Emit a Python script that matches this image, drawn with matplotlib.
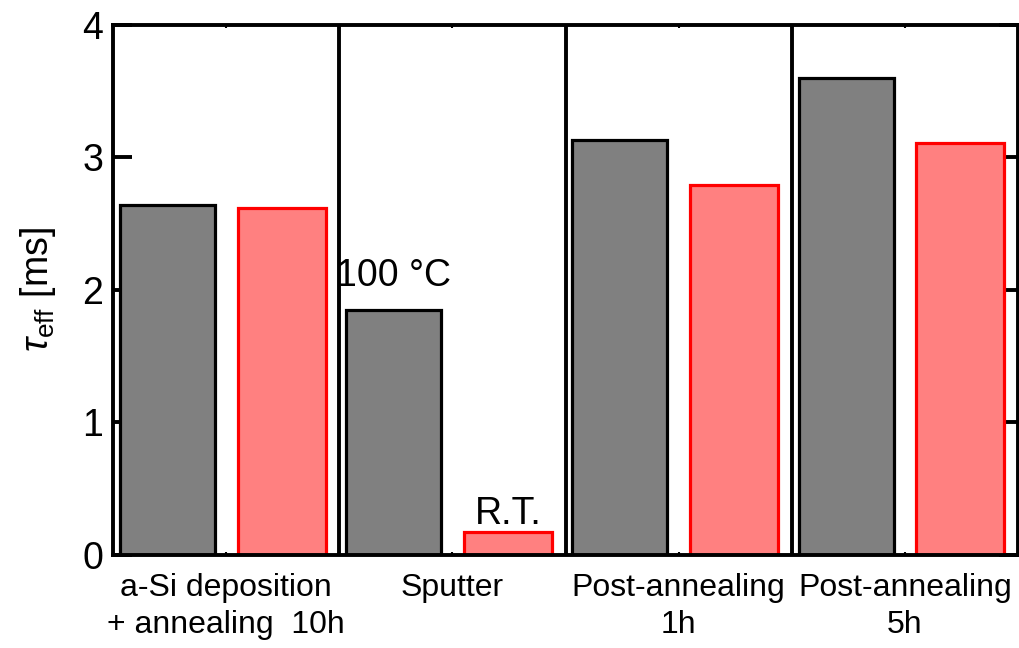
import matplotlib
matplotlib.use("Agg")
import matplotlib.pyplot as plt
import numpy as np

plt.rcParams["font.family"] = ["Liberation Sans", "DejaVu Sans"]
plt.rcParams["mathtext.fontset"] = "custom"
plt.rcParams["mathtext.rm"] = "Liberation Sans"
plt.rcParams["mathtext.it"] = "Liberation Sans:italic"

categories = ["a-Si deposition\n+ annealing  10h", "Sputter",
              "Post-annealing\n1h", "Post-annealing\n5h"]
tau_gray = [2.64, 1.85, 3.13, 3.60]
tau_red = [2.62, 0.17, 2.79, 3.11]
yticks = [0, 1, 2, 3, 4]

fig = plt.figure(figsize=(10.2, 6.48), dpi=100)
ax = fig.add_axes([0.111, 0.1435, 0.887, 0.818])

x = np.arange(len(categories))
ax.bar(x - 0.26, tau_gray, width=0.42, color="#808080",
       edgecolor="black", linewidth=2.3, zorder=3)
ax.bar(x + 0.245, tau_red, width=0.39, color="#ff8080",
       edgecolor="#ff0000", linewidth=2.3, zorder=3)

# group separators
for xs in x[:-1] + 0.5:
    ax.axvline(xs, color="black", linewidth=2.8, zorder=4)

ax.text(x[1] - 0.26, tau_gray[1] + 0.12, "100 °C", ha="center",
        va="bottom", fontsize=27)
ax.text(x[1] + 0.245, tau_red[1] + 0.0, "R.T.", ha="center",
        va="bottom", fontsize=27)

ax.set_xlim(-0.5, 3.5)
ax.set_ylim(0, 4)
ax.set_yticks(yticks)
ax.set_xticks(x)
ax.set_xticklabels(categories, fontsize=23, linespacing=1.3)
ax.tick_params(axis="y", direction="in", length=14, width=2.8,
               labelsize=27, right=True, pad=7)
ax.tick_params(axis="x", direction="in", length=2, width=1.5,
               top=True, pad=13)
for sp in ax.spines.values():
    sp.set_linewidth(2.8)
    sp.set_zorder(5)

ax.set_ylabel(r"$\tau_{\rm eff}$ [ms]", fontsize=27, labelpad=18)

fig.savefig("out.png", dpi=100)
